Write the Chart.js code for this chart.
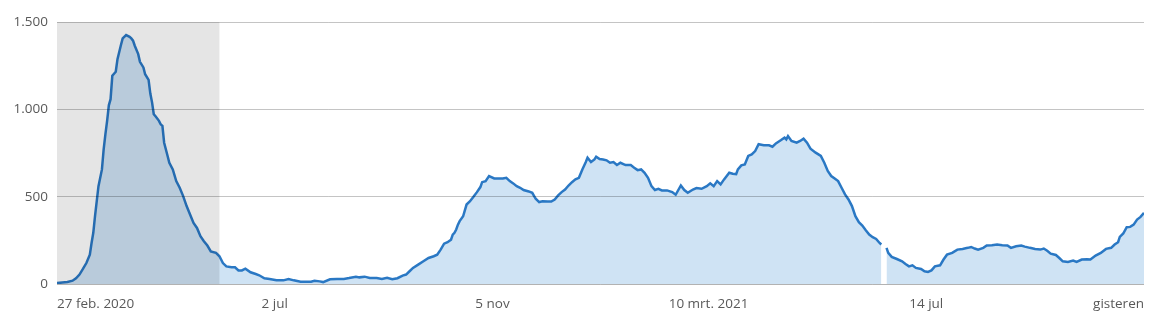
<!DOCTYPE html>
<html>
<head>
<meta charset="utf-8">
<script src="https://cdn.jsdelivr.net/npm/chart.js@4"></script>
<style>
  body { margin: 0; background: #fff; }
  #wrap { width: 1175px; height: 330px; }
</style>
</head>
<body>
<div id="wrap"><canvas id="grafiek"></canvas></div>
<script>
// dagen sinds 27 feb. 2020
const dagen = [0,3,6,9,11,13,15,17,19,20,21,22,23,24,26,27,28,29,30,31,32,34,35,37,38,40,42,43,44,45,47,48,50,51,53,54,55,56,57,59,60,61,62,64,65,67,69,71,73,75,77,79,81,83,85,87,89,92,94,96,98,101,103,105,107,109,112,115,117,120,123,127,131,134,137,141,145,147,149,152,154,158,162,166,169,173,175,178,181,185,188,191,194,197,200,202,204,206,209,212,215,218,220,222,224,226,228,229,230,231,232,233,235,237,239,241,243,245,246,248,250,253,256,258,260,262,264,266,268,270,273,275,277,279,281,284,286,288,290,292,294,296,298,300,302,304,306,307,309,311,312,314,316,318,320,322,324,326,329,332,334,336,338,340,342,344,346,348,350,353,356,358,361,363,365,368,370,373,376,378,380,382,384,386,389,391,393,394,396,398,400,402,404,406,409,412,414,416,419,421,422,423,425,428,430,432,434,436,439,442,444,446,448,450,452,454,456,458,460,462,464,466,468,470,472,474,476,477,478,480,481,483,486,489,491,493,495,497,500,502,504,506,508,511,513,515,518,521,524,527,529,531,533,536,538,541,544,547,550,552,555,558,560,563,566,569,571,573,575,578,580,582,585,588,590,593,596,598,601,604,607,610,612,614,615,617,619,621,623,625,627,629];
const opnames = [5,8,11,19,33,54,86,120,168,235,293,388,474,560,656,771,857,934,1023,1058,1192,1215,1287,1368,1406,1425,1415,1406,1393,1364,1316,1272,1240,1201,1169,1090,1040,972,960,934,914,905,809,733,694,656,589,551,503,446,398,350,321,274,245,220,187,178,159,120,101,96,96,78,78,88,67,57,50,33,29,21,21,29,21,13,13,13,19,15,11,27,29,29,34,42,38,42,34,34,29,36,27,33,48,54,73,92,111,130,149,159,168,197,231,239,254,283,293,312,340,360,388,455,474,499,526,555,583,589,618,604,604,604,608,589,576,560,551,538,530,522,488,469,474,472,472,484,507,526,541,564,583,599,608,656,698,723,698,713,729,715,713,708,694,698,681,694,681,681,666,652,656,637,608,560,538,545,536,536,526,511,564,538,522,541,549,545,560,576,560,589,570,599,637,631,629,656,679,685,733,742,761,800,794,794,786,805,824,838,828,847,819,809,819,832,809,775,752,733,694,647,618,604,589,551,513,484,446,388,354,335,308,283,268,258,235,226,null,207,178,155,143,130,115,101,107,92,86,73,69,78,101,107,140,168,178,197,201,207,212,203,197,207,220,222,226,222,220,207,216,220,214,207,201,197,203,190,174,166,149,130,126,134,126,140,142,140,163,178,201,207,226,239,270,289,325,327,340,369,384,407];

const tickDagen = [0, 126, 252, 377, 503, 629];
const tickLabels = ['27 feb. 2020', '2 jul', '5 nov', '10 mrt. 2021', '14 jul', 'gisteren'];
const yTicks = [0, 500, 1000, 1500];
const eersteGolfTot = 94; // grijs vlak

const punten = dagen.map((d, i) => ({ x: d, y: opnames[i] }));

const grijsVlak = {
  id: 'grijsVlak',
  afterDatasetsDraw(chart) {
    const { ctx, chartArea, scales } = chart;
    const x0 = scales.x.getPixelForValue(0);
    const x1 = scales.x.getPixelForValue(eersteGolfTot);
    ctx.save();
    ctx.fillStyle = 'rgba(0,0,0,0.1)';
    ctx.fillRect(x0, chartArea.top, x1 - x0, chartArea.bottom - chartArea.top);
    ctx.restore();
  }
};

const tekst = { family: "'Open Sans', sans-serif", size: 13.5 };

new Chart(document.getElementById('grafiek'), {
  type: 'line',
  data: {
    datasets: [{
      data: punten,
      borderColor: '#2a78c4',
      borderWidth: 2.5,
      backgroundColor: '#cfe3f4',
      fill: 'origin',
      pointRadius: 0,
      tension: 0,
      spanGaps: false
    }]
  },
  options: {
    responsive: true,
    maintainAspectRatio: false,
    animation: false,
    layout: { padding: { top: 22, right: 31, bottom: 0, left: 0 } },
    plugins: { legend: { display: false }, tooltip: { enabled: false } },
    scales: {
      x: {
        type: 'linear',
        min: 0,
        max: 629,
        afterBuildTicks: s => { s.ticks = tickDagen.map(v => ({ value: v })); },
        afterFit: s => { s.height = 46; },
        grid: { display: false, drawTicks: false },
        border: { display: false },
        ticks: {
          align: 'inner',
          autoSkip: false,
          maxRotation: 0,
          padding: 12,
          color: '#595959',
          font: tekst,
          callback: v => tickLabels[tickDagen.indexOf(v)]
        }
      },
      y: {
        min: 0,
        max: 1500,
        afterBuildTicks: s => { s.ticks = yTicks.map(v => ({ value: v })); },
        afterFit: s => { s.width = 57; },
        grid: {
          z: 1,
          drawTicks: false,
          color: c => c.tick && c.tick.value === 0 ? 'rgba(0,0,0,0.3)' : 'rgba(0,0,0,0.23)'
        },
        border: { display: false },
        ticks: {
          padding: 9,
          color: '#595959',
          font: tekst,
          callback: v => String(v).replace(/\B(?=(\d{3})+(?!\d))/g, '.')
        }
      }
    }
  },
  plugins: [grijsVlak]
});
</script>
</body>
</html>
